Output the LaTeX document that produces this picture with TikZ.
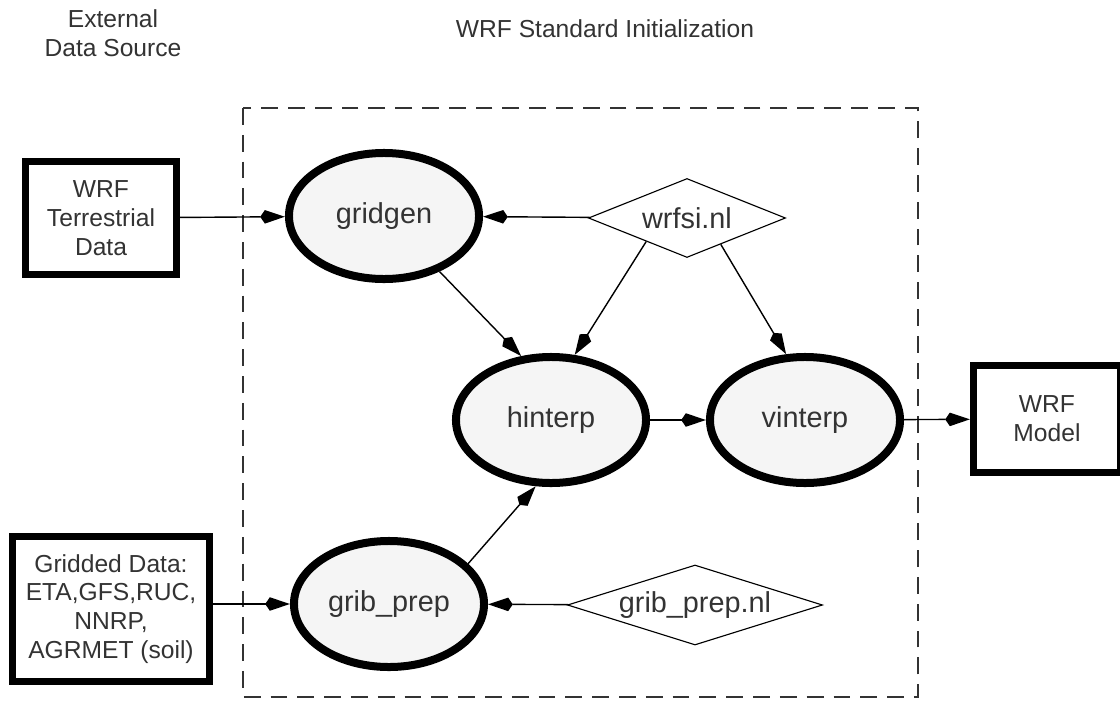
\documentclass[tikz,border=0pt]{standalone}
\usepackage{fontspec}
\setmainfont{Liberation Sans}
\usetikzlibrary{shapes.geometric,arrows.meta}
\begin{document}
\begin{tikzpicture}[x=0.025cm, y=-0.025cm, line width=1pt,
  txt/.style={text=black!80, font=\fontsize{17.5}{20.5}\selectfont, align=center, inner sep=0pt},
  src/.style={txt, draw=black, line width=0.175cm},
  proc/.style={ellipse, draw=black, line width=0.2cm, fill=black!4, minimum width=4.75cm, minimum height=3.15cm,
    inner sep=0pt, text=black!80, font=\fontsize{20.5}{24}\selectfont},
  nl/.style={diamond, draw=black, line width=0.8pt, aspect=3.2, inner sep=0pt, text=black!80,
    font=\fontsize{20.5}{24}\selectfont},
  frame/.style={draw=black!80, line width=1.8pt, dash pattern=on 0.42cm off 0.25cm},
  flow/.style={line width=1pt, -{Stealth[length=0.5cm, width=0.32cm, inset=-0.12cm]}}]
  \useasboundingbox (0,0) rectangle (1120,705);
  % column headings
  \node[txt] (extsrc) at (113,33) {External\\Data Source};
  \node[txt] (stdinit) at (605,29) {WRF Standard Initialization};
  \draw[frame] (243,108) rectangle (918,697);
  % external data and model
  \node[src, minimum width=3.775cm, minimum height=2.825cm] (terr) at (101,218) {WRF\\Terrestrial\\Data};
  \node[src, minimum width=4.925cm, minimum height=3.625cm] (gribdat) at (111,609)
    {Gridded Data:\\ETA,GFS,RUC,\\NNRP,\\AGRMET (soil)};
  \node[src, minimum width=3.675cm, minimum height=2.675cm] (model) at (1047,419) {WRF\\Model};
  % programs
  \node[proc] (gridgen) at (384,216) {gridgen};
  \node[proc] (hinterp) at (551,420) {hinterp};
  \node[proc] (vinterp) at (805,420) {vinterp};
  \node[proc] (gribprep) at (389,604) {grib\_prep};
  % namelists
  \node[nl, minimum width=4.925cm, minimum height=1.975cm] (wrfsi) at (687,218) {wrfsi.nl};
  \node[nl, minimum width=6.375cm, minimum height=2cm] (gribnl) at (695,605) {grib\_prep.nl};
  % data flow
  \draw[flow] (terr) -- (gridgen);
  \draw[flow] (wrfsi) -- (gridgen);
  \draw[flow] (gridgen.-45) -- (hinterp.115);
  \draw[flow] (wrfsi.-150) -- (hinterp.70);
  \draw[flow] (wrfsi.-38) -- (vinterp.106);
  \draw[flow] (hinterp) -- (vinterp);
  \draw[flow] (vinterp) -- (model);
  \draw[flow] (gribdat.east |- gribprep) -- (gribprep);
  \draw[flow] (gribnl) -- (gribprep);
  \draw[flow] (gribprep.27) -- (hinterp.-103);
\end{tikzpicture}
\end{document}
